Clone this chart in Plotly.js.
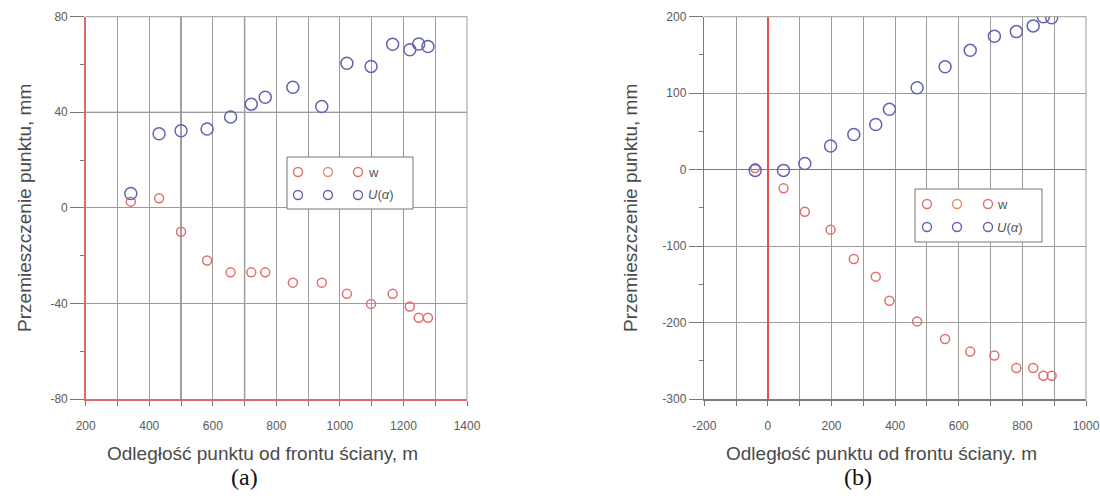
<!DOCTYPE html>
<html>
<head>
<meta charset="utf-8">
<script src="https://cdn.plot.ly/plotly-3.0.1.min.js"></script>
<style>html,body{margin:0;padding:0;background:#fff}#chart{width:1100px;height:496px}</style>
</head>
<body>
<div id="chart"></div>
<script>
// ---- Data: chart (a)
const xA = [342, 431, 500, 582, 656, 721, 765, 852, 943, 1022, 1098, 1166, 1220, 1248, 1277];
const uA = [6, 31, 32.3, 33, 38, 43.4, 46.3, 50.5, 42.4, 60.5, 59.2, 68.5, 66.2, 68.6, 67.5];
const wA = [2.6, 4, -10, -22, -27, -27, -27, -31.3, -31.3, -36, -40.2, -36, -41.3, -46, -46];
// ---- Data: chart (b)
const xB = [-40, 49, 116, 197, 270, 339, 382, 469, 557, 636, 712, 781, 834, 866, 892];
const uB = [-1, -1, 8, 31, 46, 59, 79, 107, 134.5, 156, 174.5, 180.5, 188, 200, 198.5];
const wB = [2, -24.5, -55, -78.5, -117, -140, -171.5, -198.5, -221.5, -238, -243, -259.5, -259.5, -269.5, -269.5];
// ---- Tick labels
const xTicksA = [200, 400, 600, 800, 1000, 1200, 1400];
const yTicksA = [-80, -40, 0, 40, 80];
const xTicksB = [-200, 0, 200, 400, 600, 800, 1000];
const yTicksB = [-300, -200, -100, 0, 100, 200];
// ---- Text
const xTitle = ['Odległość punktu od frontu ściany, m', 'Odległość punktu od frontu ściany. m'];
const yTitle = 'Przemieszczenie punktu, mm';
const panelLabels = ['(a)', '(b)'];
const seriesNames = ['w', '<i>U</i>(<i>α</i>)'];

const RED = '#e07070', BLUE = '#6363b0';
const GRID = '#9c9c9c', TXT = '#5a5a5a';
const W = 1100, H = 496;
const px = v => v / W, py = v => 1 - v / H;
const lbl = v => String(v); // plain hyphen minus as in the original

function scat(x, y, color, size, xa, ya, name) {
  return {x, y, type: 'scatter', mode: 'markers', name, showlegend: false, xaxis: xa, yaxis: ya,
    marker: {symbol: 'circle-open', size, color, line: {width: 1.5, color}}};
}
const data = [
  scat(xA, wA, RED, 9, 'x', 'y', 'w'),
  scat(xA, uA, BLUE, 12, 'x', 'y', 'U(α)'),
  scat(xB, wB, RED, 9, 'x2', 'y2', 'w'),
  scat(xB, uB, BLUE, 12, 'x2', 'y2', 'U(α)')
];

const tickFont = {family: 'Liberation Sans, Arial, sans-serif', size: 12, color: TXT};
const titleFont = {family: 'Liberation Sans, Arial, sans-serif', size: 19, color: '#4a4a4a'};

function xax(range, domain, anchor, lineColor, ticks, extra) {
  return Object.assign({
    range, domain, anchor, tickmode: 'array', tickvals: ticks, ticktext: ticks.map(lbl),
    ticks: 'outside', ticklen: 5, tickcolor: '#777',
    showgrid: true, gridcolor: GRID, gridwidth: 1, zeroline: false,
    showline: true, linecolor: lineColor, linewidth: 1.5,
    minor: {dtick: 100, tick0: 0, ticks: 'outside', ticklen: 5, tickcolor: '#777', showgrid: true, gridcolor: GRID, gridwidth: 1},
    tickfont: tickFont, ticklabelstandoff: 10, automargin: false, fixedrange: true
  }, extra || {});
}
function yax(range, ticks, mdtick, domain, anchor, lineColor, standoff, extra) {
  return Object.assign({
    range, domain, anchor, tickmode: 'array', tickvals: ticks, ticktext: ticks.map(lbl),
    ticks: 'outside', ticklen: 14, tickcolor: '#777',
    showgrid: true, gridcolor: GRID, gridwidth: 1, zeroline: false,
    showline: true, linecolor: lineColor, linewidth: 1.5,
    minor: {dtick: mdtick, tick0: 0, ticks: 'outside', ticklen: 4, tickcolor: '#777', showgrid: false},
    tickfont: tickFont, automargin: false, fixedrange: true,
    title: {text: yTitle, font: titleFont, standoff}
  }, extra || {});
}

const yDom = [py(399), py(16.7)];
const layout = {
  width: W, height: H, margin: {l: 0, r: 0, t: 0, b: 0},
  paper_bgcolor: '#fff', plot_bgcolor: '#fff', showlegend: false,
  xaxis: xax([200, 1400], [px(85.7), px(467)], 'y', '#e06a6a', xTicksA),
  yaxis: yax([-80, 80], yTicksA, 20, yDom, 'x', '#e06a6a', 14),
  xaxis2: xax([-200, 1000], [px(704.3), px(1086)], 'y2', '#7a7a7a', xTicksB,
    {zeroline: true, zerolinecolor: '#e05050', zerolinewidth: 1.5}),
  yaxis2: yax([-300, 200], yTicksB, 50, yDom, 'x2', '#7a7a7a', 19,
    {zeroline: true, zerolinecolor: '#e05050', zerolinewidth: 1.5}),
  shapes: [],
  annotations: []
};

// top / right borders
[['x', 'y'], ['x2', 'y2']].forEach(([xa, ya]) => {
  layout.shapes.push({type: 'line', xref: xa + ' domain', yref: ya + ' domain', x0: 0, x1: 1, y0: 1, y1: 1, line: {color: GRID, width: 1}});
  layout.shapes.push({type: 'line', xref: xa + ' domain', yref: ya + ' domain', x0: 1, x1: 1, y0: 0, y1: 1, line: {color: GRID, width: 1}});
});
// a few darker grid lines visible in the original panel (a)
const darkGridXA = [500, 700];
const darkGridYA = [40];
darkGridXA.forEach(v => layout.shapes.push({type: 'line', xref: 'x', yref: 'y domain', x0: v, x1: v, y0: 0, y1: 1, line: {color: '#6e6e6e', width: 1.3}, layer: 'below'}));
darkGridYA.forEach(v => layout.shapes.push({type: 'line', xref: 'x domain', yref: 'y', x0: 0, x1: 1, y0: v, y1: v, line: {color: '#6e6e6e', width: 1.3}, layer: 'below'}));

// custom legends (three symbols per entry, as in the original)
function legend(box, rows, symX, textX) {
  layout.shapes.push({type: 'rect', xref: 'paper', yref: 'paper', x0: px(box[0]), x1: px(box[1]), y0: py(box[3]), y1: py(box[2]),
    line: {color: '#777', width: 1}, fillcolor: 'rgba(255,255,255,1)', layer: 'above'});
  const cols = [[RED, '#e09070', RED], [BLUE, BLUE, BLUE]];
  rows.forEach((ry, i) => {
    symX.forEach((sx, j) => {
      const r = 4.5;
      layout.shapes.push({type: 'circle', xref: 'paper', yref: 'paper', x0: px(sx - r), x1: px(sx + r), y0: py(ry + r), y1: py(ry - r),
        line: {color: cols[i][j], width: 1.4}, fillcolor: 'rgba(0,0,0,0)', layer: 'above'});
    });
    layout.annotations.push({xref: 'paper', yref: 'paper', x: px(textX), y: py(ry), xanchor: 'left', yanchor: 'middle', showarrow: false,
      text: seriesNames[i], font: {family: 'Liberation Sans, Arial, sans-serif', size: 13, color: '#555'}});
  });
}
legend([287, 413, 157, 209], [172, 195], [298, 328, 358], 366);
legend([915, 1042, 189, 242], [204, 227], [927, 957, 988], 995);

// x titles and panel labels
[[262, 453, xTitle[0]], [881, 453, xTitle[1]]].forEach(([x, y, t]) => {
  layout.annotations.push({xref: 'paper', yref: 'paper', x: px(x), y: py(y), xanchor: 'center', yanchor: 'middle', showarrow: false, text: t, font: titleFont});
});
[[244, 477, panelLabels[0]], [858, 477, panelLabels[1]]].forEach(([x, y, t]) => {
  layout.annotations.push({xref: 'paper', yref: 'paper', x: px(x), y: py(y), xanchor: 'center', yanchor: 'middle', showarrow: false, text: t,
    font: {family: 'Liberation Serif, Times New Roman, serif', size: 24, color: '#111'}});
});

Plotly.newPlot('chart', data, layout, {staticPlot: true, displayModeBar: false});
</script>
</body>
</html>
